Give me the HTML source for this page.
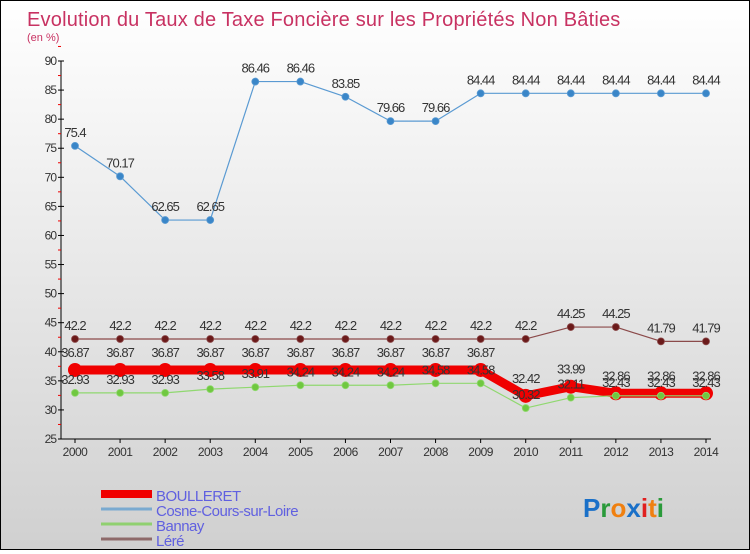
<!DOCTYPE html>
<html><head><meta charset="utf-8"><style>
html,body{margin:0;padding:0}
body{width:750px;height:550px;overflow:hidden;font-family:"Liberation Sans",sans-serif}
#root{position:relative;width:748px;height:548px;border:1px solid #000;background:linear-gradient(#ffffff,#d0d0d0)}
</style></head><body>
<div id="root">
<svg id="chart" width="748" height="548"></svg>
</div>
<script>
const years = ["2000","2001","2002","2003","2004","2005","2006","2007","2008","2009","2010","2011","2012","2013","2014"];
const boulleret = [36.87,36.87,36.87,36.87,36.87,36.87,36.87,36.87,36.87,36.87,32.42,33.99,32.86,32.86,32.86];
const cosne = [75.4,70.17,62.65,62.65,86.46,86.46,83.85,79.66,79.66,84.44,84.44,84.44,84.44,84.44,84.44];
const bannay = [32.93,32.93,32.93,33.58,33.91,34.24,34.24,34.24,34.58,34.58,30.32,32.11,32.43,32.43,32.43];
const lere = [42.2,42.2,42.2,42.2,42.2,42.2,42.2,42.2,42.2,42.2,42.2,44.25,44.25,41.79,41.79];
const yTicks = [25,30,35,40,45,50,55,60,65,70,75,80,85,90];

const NS="http://www.w3.org/2000/svg";
const svg=document.getElementById('chart');
function el(t,a,p){const e=document.createElementNS(NS,t);for(const k in a)e.setAttribute(k,a[k]);(p||svg).appendChild(e);return e;}
const x=i=>74+i*(631/(years.length-1));
const y=v=>60+(90-v)*(378/65);

let t=el('text',{x:26,y:25,'font-size':20,fill:'#c83262','letter-spacing':'0.2'});t.textContent='Evolution du Taux de Taxe Foncière sur les Propriétés Non Bâties';

t=el('text',{x:26,y:40,'font-size':11,fill:'#c83262'});t.textContent='(en %)';


let ax=el('line',{x1:60,y1:y(90),x2:60,y2:y(25),stroke:'#000'});

ax=el('line',{x1:60,y1:y(25),x2:710,y2:y(25),stroke:'#000'});

yTicks.forEach(v=>{
  el('line',{x1:57,y1:y(v),x2:63,y2:y(v),stroke:'#000'});
  el('line',{x1:57,y1:y(v+2.5),x2:60,y2:y(v+2.5),stroke:'#e00'});
  const l=el('text',{x:55,y:y(v)+4,'font-size':12,'text-anchor':'end',fill:'#333','letter-spacing':'-1'});l.textContent=v;
  
});
years.forEach((yr,i)=>{
  el('line',{x1:x(i),y1:y(25),x2:x(i),y2:y(25)+4,stroke:'#000'});
  const l=el('text',{x:x(i),y:y(25)+17,'font-size':12,'text-anchor':'middle',fill:'#333','letter-spacing':'-0.5'});l.textContent=yr;
  
});

function series(name,data,color,w,r,dot,labDy){
  const g=el('g',{});
  
  el('polyline',{points:data.map((v,i)=>x(i)+','+y(v)).join(' '),fill:'none',stroke:color,'stroke-width':w,'stroke-linejoin':'round'},g);
  data.forEach((v,i)=>{
    const c=el('circle',{cx:x(i),cy:y(v),r:r,fill:dot,stroke:color==dot?'none':color,'stroke-width':0.8},g);
    
    const l=el('text',{x:x(i),y:y(v)+labDy,'font-size':13,'text-anchor':'middle',fill:'#333','letter-spacing':'-1'},g);
    l.textContent=String(v).replace(/\.?0+$/,'');
    
  });
}
series('lere',lere,'#8b4a4a',1.2,3.5,'#6b1a1a',-9);
series('cosne',cosne,'#5a9ad2',1.2,3.5,'#3a86c8',-9);
series('boulleret',boulleret,'#f00000',9,7,'#f00000',-13);
series('bannay',bannay,'#90d870',1.2,3.5,'#70c840',-9);

const leg=[['BOULLERET','#f00000',8],['Cosne-Cours-sur-Loire','#7aaad0',3],['Bannay','#90d070',3],['Léré','#8e6a6a',3]];
leg.forEach((d,i)=>{
  const g=el('g',{});
  const yy=493+i*15;
  el('line',{x1:100,y1:yy,x2:151,y2:yy,stroke:d[1],'stroke-width':d[2]},g);
  const l=el('text',{x:155,y:yy+7,'font-size':15,fill:'#6060e0','letter-spacing':'-0.5'},g);l.textContent=d[0];
});
const lg=el('text',{x:582,y:516,'font-size':26,'font-weight':'bold'});

[['P','#1a70c8'],['r','#2a9a3a'],['o','#f08010'],['x','#1a70c8'],['i','#e02020'],['t','#f08010'],['i','#2a9a3a']].forEach(c=>{const s=el('tspan',{fill:c[1]},lg);s.textContent=c[0];});
</script>
</body></html>
